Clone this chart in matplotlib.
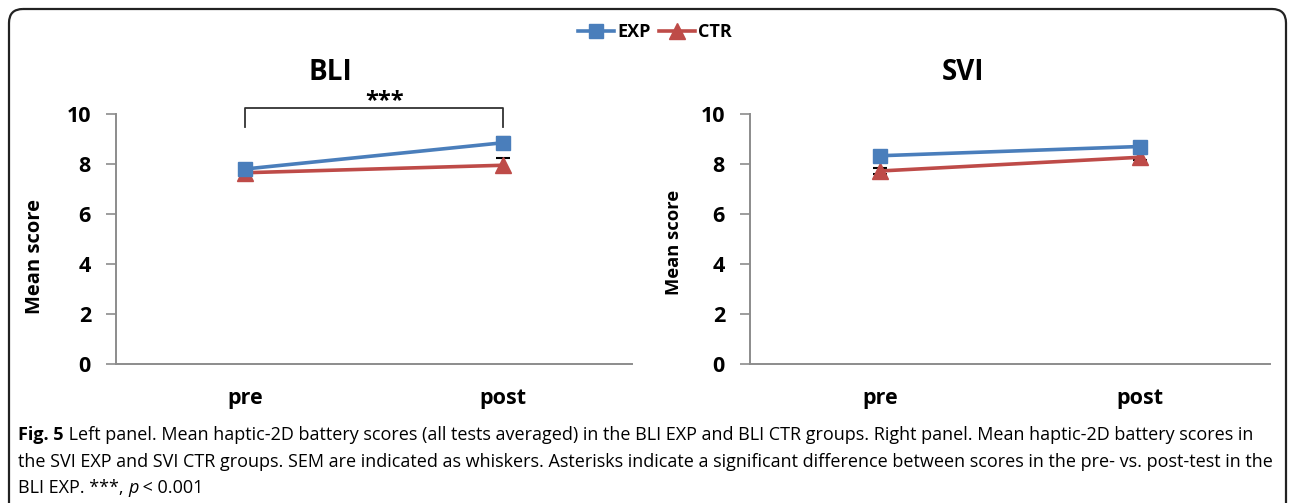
import numpy as np
import matplotlib
matplotlib.use("Agg")
import matplotlib.pyplot as plt
from matplotlib.lines import Line2D
from matplotlib.patches import FancyBboxPatch

# data
phases = ["pre", "post"]
bli_exp = [7.80, 8.85]
bli_exp_sem = [0.20, 0.25]
bli_ctr = [7.65, 7.95]
bli_ctr_sem = [0.30, 0.28]
svi_exp = [8.33, 8.70]
svi_exp_sem = [0.15, 0.12]
svi_ctr = [7.72, 8.27]
svi_ctr_sem = [0.12, 0.12]

blue = "#4a7ebb"
red = "#be4b48"
axis_gray = "#8c8c8c"

plt.rcParams['font.family'] = ['Open Sans', 'DejaVu Sans']

W, H = 1295, 503
fig = plt.figure(figsize=(W / 100, H / 100), dpi=100)

# rounded frame around the whole figure (bottom edge runs off the page)
frame = FancyBboxPatch((9, 9), 1277, H + 40,
                       boxstyle="round,pad=0,rounding_size=14",
                       fill=False, edgecolor="#222222", linewidth=1.6)
frame.set_transform(matplotlib.transforms.Affine2D().scale(1, -1).translate(0, H))
fig.patches.append(frame)

ax1 = fig.add_axes([116 / W, 139 / H, 516 / W, 250 / H])
ax2 = fig.add_axes([750 / W, 139 / H, 520 / W, 250 / H])

x = np.arange(len(phases))


def draw_panel(ax, exp, exp_sem, ctr, ctr_sem, ylabel_size, ylabel_xy):
    ax.errorbar(x, ctr, yerr=ctr_sem, fmt='none', ecolor='black',
                elinewidth=1.5, capsize=5, capthick=1.5, zorder=2)
    ax.errorbar(x, exp, yerr=exp_sem, fmt='none', ecolor='black',
                elinewidth=1.5, capsize=5, capthick=1.5, zorder=2)
    ax.plot(x, exp, color=blue, lw=2.6, marker='s', markersize=10, zorder=4)
    ax.plot(x, ctr, color=red, lw=2.6, marker='^', markersize=11, zorder=3)
    ax.set_xlim(-0.5, 1.5)
    ax.set_ylim(0, 10)
    ax.set_yticks([0, 2, 4, 6, 8, 10])
    ax.set_xticks(x)
    ax.set_xticklabels(phases, fontsize=15.5, fontweight='bold')
    for lab in ax.get_yticklabels():
        lab.set_fontsize(15.5)
        lab.set_fontweight('bold')
    ax.tick_params(axis='y', length=7, width=1.2, color=axis_gray, pad=11)
    ax.tick_params(axis='x', length=0, pad=17)
    for s in ['top', 'right']:
        ax.spines[s].set_visible(False)
    for s in ['left', 'bottom']:
        ax.spines[s].set_color(axis_gray)
        ax.spines[s].set_linewidth(1.4)
    ax.set_ylabel("Mean score", fontsize=ylabel_size, fontweight='bold')
    ax.yaxis.set_label_coords(*ylabel_xy)


draw_panel(ax1, bli_exp, bli_exp_sem, bli_ctr, bli_ctr_sem, 14.5, (-0.138, 0.43))
draw_panel(ax2, svi_exp, svi_exp_sem, svi_ctr, svi_ctr_sem, 13.2, (-0.129, 0.488))

# significance bracket in the BLI panel
ax1.plot([0, 0, 1, 1], [9.5, 10.25, 10.25, 9.5], color="#333333", lw=1.3,
         clip_on=False, solid_joinstyle='round')
ax1.text(0.54, 10.02, "***", ha='center', va='bottom', fontsize=17, fontweight='bold')

# panel titles
fig.text(330 / W, 1 - 73 / H, "BLI", ha='center', va='center', fontsize=20, fontweight='bold')
fig.text(963 / W, 1 - 73 / H, "SVI", ha='center', va='center', fontsize=20, fontweight='bold')

# legend
handles = [Line2D([], [], color=blue, lw=2.6, marker='s', markersize=10),
           Line2D([], [], color=red, lw=2.6, marker='^', markersize=11)]
fig.legend(handles, ["EXP", "CTR"], loc='center', bbox_to_anchor=(655 / W, 1 - 32 / H),
           ncol=2, frameon=False, handlelength=2.0, handletextpad=0.15, columnspacing=0.5,
           prop={'weight': 'bold', 'size': 13})

# caption, written piece by piece so bold / italic runs sit on one baseline
cap_lines = [
    [("Fig. 5", 'bold', 'normal'),
     (" Left panel. Mean haptic-2D battery scores (all tests averaged) in the BLI EXP and "
      "BLI CTR groups. Right panel. Mean haptic-2D battery scores in", 'normal', 'normal')],
    [("the SVI EXP and SVI CTR groups. SEM are indicated as whiskers. Asterisks indicate "
      "a significant difference between scores in the pre- vs. post-test in the",
      'normal', 'normal')],
    [("BLI EXP. ***, ", 'normal', 'normal'), ("p", 'normal', 'italic'),
     (" < 0.001", 'normal', 'normal')],
]
cap_y = [440, 467, 493]
renderer = fig.canvas.get_renderer()

# pick a size so the longest line spans the frame width
probe = fig.text(0, 0, cap_lines[1][0][0], fontsize=10)
cap_size = 10 * 1257 / probe.get_window_extent(renderer=renderer).width
probe.remove()


def caption_line(y_px, pieces):
    xpos = 18
    for txt, weight, style in pieces:
        t = fig.text(xpos / W, 1 - y_px / H, txt, fontsize=cap_size, fontweight=weight,
                     fontstyle=style, va='baseline', ha='left')
        xpos = t.get_window_extent(renderer=renderer).x1


for y_px, pieces in zip(cap_y, cap_lines):
    caption_line(y_px, pieces)

fig.savefig("out.png", dpi=100)
